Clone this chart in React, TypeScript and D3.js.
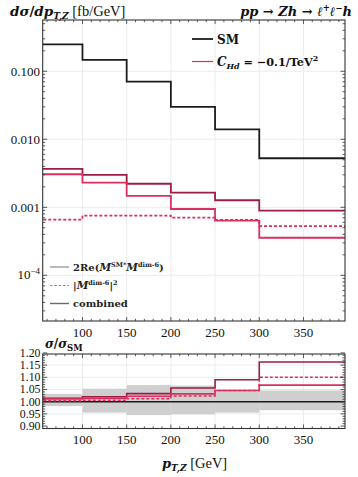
import React from "react";
import * as d3 from "d3";

// bins in p_T,Z [GeV]
const binEdges = [50, 100, 150, 200, 250, 300, 400];

// top panel: dsigma/dpT [fb/GeV]
const smValues = [0.249, 0.1466, 0.0703, 0.0299, 0.014, 0.00526];
const interfValues = [0.00306, 0.0023, 0.00147, 0.000944, 0.000636, 0.000357];
const squaredValues = [0.000658, 0.000752, 0.000752, 0.000703, 0.00065, 0.00053];
const combinedValues = [0.00366, 0.00299, 0.00222, 0.00164, 0.00127, 0.000891];

// bottom panel: sigma / sigma_SM
const ratioCombined = [1.014, 1.02, 1.033, 1.056, 1.09, 1.163];
const ratioInterf = [1.011, 1.014, 1.022, 1.032, 1.046, 1.068];
const ratioSquared = [1.004, 1.006, 1.012, 1.023, 1.046, 1.1];
const bandUpper = [1.032, 1.053, 1.068, 1.066, 1.043, 1.046];
const bandLower = [0.982, 0.955, 0.945, 0.948, 0.955, 0.965];

const xTickValues = [100, 150, 200, 250, 300, 350];
const logTickValues = [0.1, 0.01, 0.001, 0.0001];
const logTickLabels = ["0.100", "0.010", "0.001", "10^-4"];
const ratioTickValues = [0.9, 0.95, 1.0, 1.05, 1.1, 1.15, 1.2];
const ratioTickLabels = ["0.90", "0.95", "1.00", "1.05", "1.10", "1.15", "1.20"];

const SM_COLOR = "#1c1c1c";
const COMB_COLOR = "#9b1d45";
const INT_COLOR = "#dc2f5e";
const GRID = "#ececec";
const FRAME = "#333";
const FONT = "'Liberation Serif', 'DejaVu Serif', serif";
const MATH = "'DejaVu Serif', serif";

const left = 42.7;
const right = 345;
const topY0 = 20;
const topY1 = 321;
const botY0 = 354;
const botY1 = 428.5;

export default function App() {
  const x = d3.scaleLinear().domain([55, 397]).range([left, right]);
  const y = d3.scaleLog().domain([2.13e-5, 0.567]).range([topY1, topY0]);
  const yr = d3.scaleLinear().domain([0.89, 1.1955]).range([botY1, botY0]);

  const stepPts = (vals: number[]) => {
    const pts: [number, number][] = vals.map((v, i) => [binEdges[i], v]);
    pts.push([binEdges[binEdges.length - 1], vals[vals.length - 1]]);
    return pts;
  };
  const topLine = d3
    .line<[number, number]>()
    .x((d) => x(d[0]))
    .y((d) => y(d[1]))
    .curve(d3.curveStepAfter);
  const botLine = d3
    .line<[number, number]>()
    .x((d) => x(d[0]))
    .y((d) => yr(d[1]))
    .curve(d3.curveStepAfter);

  // minor ticks
  const xMinor = d3.range(60, 400, 10).filter((v) => v % 50 !== 0);
  const logMinor: number[] = [];
  for (let e = -5; e <= 0; e++) {
    for (let m = 2; m <= 9; m++) {
      const v = m * Math.pow(10, e);
      if (v > 2.13e-5 && v < 0.567) logMinor.push(v);
    }
  }
  const ratioMinor = d3
    .range(0.9, 1.2, 0.01)
    .filter((v) => Math.abs(Math.round(v * 20) - v * 20) > 0.01);

  const xTicksFor = (y0: number, y1: number, key: string) => (
    <g key={key} stroke={FRAME} strokeWidth={0.8}>
      {xTickValues.map((v) => (
        <g key={"M" + v}>
          <line x1={x(v)} x2={x(v)} y1={y1} y2={y1 - 4} />
          <line x1={x(v)} x2={x(v)} y1={y0} y2={y0 + 4} />
        </g>
      ))}
      {xMinor.map((v) => (
        <g key={"m" + v}>
          <line x1={x(v)} x2={x(v)} y1={y1} y2={y1 - 2.2} />
          <line x1={x(v)} x2={x(v)} y1={y0} y2={y0 + 2.2} />
        </g>
      ))}
    </g>
  );

  const bandPts = binEdges.slice(0, -1).map((e, i) => ({ x0: e, x1: binEdges[i + 1], lo: bandLower[i], hi: bandUpper[i] }));

  return (
    <svg width={358} height={477} style={{ position: "absolute", left: 0, top: 0 }} fontFamily={FONT}>
      <defs>
        <clipPath id="clipTop">
          <rect x={left} y={topY0} width={right - left} height={topY1 - topY0} />
        </clipPath>
        <clipPath id="clipBot">
          <rect x={left} y={botY0} width={right - left} height={botY1 - botY0} />
        </clipPath>
      </defs>
      <rect width={358} height={477} fill="#fff" />

      {/* titles */}
      <text x={10} y={16} fontSize={13.5} fontWeight="bold" fill="#111" fontFamily={MATH}>
        <tspan fontStyle="italic">dσ</tspan>
        <tspan>/</tspan>
        <tspan fontStyle="italic">dp</tspan>
        <tspan fontStyle="italic" fontSize={9} dy={3}>T,Z</tspan>
        <tspan dy={-3} fontWeight="normal" fontFamily={FONT} fontSize={14.5}> [fb/GeV]</tspan>
      </text>
      <text x={352} y={16} fontSize={13} fontWeight="bold" fontStyle="italic" textAnchor="end" fill="#111" fontFamily={MATH}>
        <tspan>pp</tspan>
        <tspan fontStyle="normal"> → </tspan>
        <tspan>Zh</tspan>
        <tspan fontStyle="normal"> → </tspan>
        <tspan>ℓ</tspan>
        <tspan fontSize={8.5} dy={-5}>+</tspan>
        <tspan dy={5}>ℓ</tspan>
        <tspan fontSize={8.5} dy={-5}>−</tspan>
        <tspan dy={5}>h</tspan>
      </text>

      {/* grid */}
      <g stroke={GRID} strokeWidth={1}>
        {xTickValues.map((v) => (
          <line key={"gt" + v} x1={x(v)} x2={x(v)} y1={topY0} y2={topY1} />
        ))}
        {logTickValues.map((v) => (
          <line key={"gy" + v} x1={left} x2={right} y1={y(v)} y2={y(v)} />
        ))}
        {xTickValues.map((v) => (
          <line key={"gb" + v} x1={x(v)} x2={x(v)} y1={botY0} y2={botY1} />
        ))}
        {ratioTickValues.slice(1, -1).filter((v) => v !== 1).map((v) => (
          <line key={"gr" + v} x1={left} x2={right} y1={yr(v)} y2={yr(v)} />
        ))}
      </g>

      {/* top panel histograms */}
      <g clipPath="url(#clipTop)" fill="none" strokeWidth={1.8}>
        <path d={topLine(stepPts(smValues)) || ""} stroke={SM_COLOR} />
        <path d={topLine(stepPts(combinedValues)) || ""} stroke={COMB_COLOR} />
        <path d={topLine(stepPts(interfValues)) || ""} stroke={INT_COLOR} />
        <path d={topLine(stepPts(squaredValues)) || ""} stroke={INT_COLOR} strokeDasharray="3,2" />
      </g>

      {/* bottom panel */}
      <g clipPath="url(#clipBot)">
        {bandPts.map((b, i) => (
          <rect key={"band" + i} x={x(b.x0)} width={x(b.x1) - x(b.x0)} y={yr(b.hi)} height={yr(b.lo) - yr(b.hi)} fill="#cfcfcf" />
        ))}
        <line x1={left} x2={right} y1={yr(1)} y2={yr(1)} stroke={SM_COLOR} strokeWidth={1.6} />
        <g fill="none" strokeWidth={1.6}>
          <path d={botLine(stepPts(ratioCombined)) || ""} stroke={COMB_COLOR} />
          <path d={botLine(stepPts(ratioInterf)) || ""} stroke={INT_COLOR} />
          <path d={botLine(stepPts(ratioSquared)) || ""} stroke={INT_COLOR} strokeDasharray="3,2" />
        </g>
      </g>

      {/* ticks top */}
      {xTicksFor(topY0, topY1, "xt")}
      <g stroke={FRAME} strokeWidth={0.8}>
        {logTickValues.map((v) => (
          <g key={"lt" + v}>
            <line x1={left} x2={left + 4.5} y1={y(v)} y2={y(v)} />
            <line x1={right} x2={right - 4.5} y1={y(v)} y2={y(v)} />
          </g>
        ))}
        {logMinor.map((v) => (
          <g key={"lm" + v}>
            <line x1={left} x2={left + 2.5} y1={y(v)} y2={y(v)} />
            <line x1={right} x2={right - 2.5} y1={y(v)} y2={y(v)} />
          </g>
        ))}
      </g>
      <rect x={left} y={topY0} width={right - left} height={topY1 - topY0} fill="none" stroke={FRAME} strokeWidth={1.1} />

      {/* ticks bottom */}
      {xTicksFor(botY0, botY1, "xb")}
      <g stroke={FRAME} strokeWidth={0.8}>
        {ratioTickValues.map((v) => (
          <g key={"rt" + v}>
            <line x1={left} x2={left + 4.5} y1={yr(v)} y2={yr(v)} />
            <line x1={right} x2={right - 4.5} y1={yr(v)} y2={yr(v)} />
          </g>
        ))}
        {ratioMinor.map((v) => (
          <g key={"rm" + v}>
            <line x1={left} x2={left + 2.5} y1={yr(v)} y2={yr(v)} />
            <line x1={right} x2={right - 2.5} y1={yr(v)} y2={yr(v)} />
          </g>
        ))}
      </g>
      <rect x={left} y={botY0} width={right - left} height={botY1 - botY0} fill="none" stroke={FRAME} strokeWidth={1.1} />

      {/* tick labels */}
      <g fontSize={13} fill="#111">
        {logTickValues.map((v, i) => {
          const lab = logTickLabels[i];
          if (lab.startsWith("10^")) {
            return (
              <text key={"ll" + v} x={40} y={y(v) + 4} textAnchor="end">
                10<tspan fontSize={9} dy={-5}>{lab.slice(3).replace("-", "−")}</tspan>
              </text>
            );
          }
          return (
            <text key={"ll" + v} x={40} y={y(v) + 4.5} textAnchor="end">
              {lab}
            </text>
          );
        })}
        {xTickValues.map((v) => (
          <text key={"xl1" + v} x={x(v)} y={topY1 + 16} textAnchor="middle">
            {v}
          </text>
        ))}
        {ratioTickValues.map((v, i) => (
          <text key={"rl" + v} x={40.5} y={yr(v) + 4} textAnchor="end" fontSize={11.8}>
            {ratioTickLabels[i]}
          </text>
        ))}
        {xTickValues.map((v) => (
          <text key={"xl2" + v} x={x(v)} y={botY1 + 15} textAnchor="middle">
            {v}
          </text>
        ))}
      </g>

      {/* axis labels */}
      <text x={45} y={348} fontSize={12} fontWeight="bold" fill="#111" fontFamily={MATH}>
        <tspan fontStyle="italic">σ</tspan>
        <tspan>/</tspan>
        <tspan fontStyle="italic">σ</tspan>
        <tspan fontSize={8.5} dy={3}>SM</tspan>
      </text>
      <text x={162} y={468} fontSize={13} fontWeight="bold" fill="#111" fontFamily={MATH}>
        <tspan fontStyle="italic">p</tspan>
        <tspan fontStyle="italic" fontSize={9} dy={3}>T,Z</tspan>
        <tspan dy={-3} fontWeight="normal" fontFamily={FONT} fontSize={14.5}> [GeV]</tspan>
      </text>

      {/* legend upper */}
      <g fontSize={11.2} fontWeight="bold" fill="#111" fontFamily={MATH}>
        <line x1={192} x2={213} y1={39} y2={39} stroke={SM_COLOR} strokeWidth={1.8} />
        <text x={217} y={43.5} fontSize={12}>SM</text>
        <line x1={192} x2={213} y1={61.5} y2={61.5} stroke={INT_COLOR} strokeWidth={1.2} />
        <text x={217} y={66}>
          <tspan fontStyle="italic" fontSize={12}>C</tspan>
          <tspan fontStyle="italic" fontSize={8} dy={3}>Hd</tspan>
          <tspan dy={-3}> = −0.1/TeV</tspan>
          <tspan fontSize={8} dy={-5}>2</tspan>
        </text>
      </g>

      {/* legend lower */}
      <g fontSize={10} fontWeight="bold" fill="#222" fontFamily={MATH}>
        <line x1={50} x2={69} y1={267} y2={267} stroke="#8a8a8a" strokeWidth={1.2} />
        <text x={73} y={270.5}>
          <tspan>2Re(</tspan>
          <tspan fontStyle="italic" fontSize={10.5}>M</tspan>
          <tspan fontSize={6.5} dy={-4}>SM*</tspan>
          <tspan dy={4} fontStyle="italic" fontSize={10.5}>M</tspan>
          <tspan fontSize={6.5} dy={-4}>dim-6</tspan>
          <tspan dy={4}>)</tspan>
        </text>
        <line x1={50} x2={69} y1={285.5} y2={285.5} stroke="#8a8a8a" strokeWidth={1.2} strokeDasharray="2.5,1.8" />
        <text x={73} y={289}>
          <tspan>|</tspan>
          <tspan fontStyle="italic" fontSize={10.5}>M</tspan>
          <tspan fontSize={6.5} dy={-4}>dim-6</tspan>
          <tspan dy={4}>|</tspan>
          <tspan fontSize={6.5} dy={-4}>2</tspan>
        </text>
        <line x1={50} x2={69} y1={303.5} y2={303.5} stroke="#6a6a6a" strokeWidth={1.4} />
        <text x={73} y={307}>combined</text>
      </g>
    </svg>
  );
}
